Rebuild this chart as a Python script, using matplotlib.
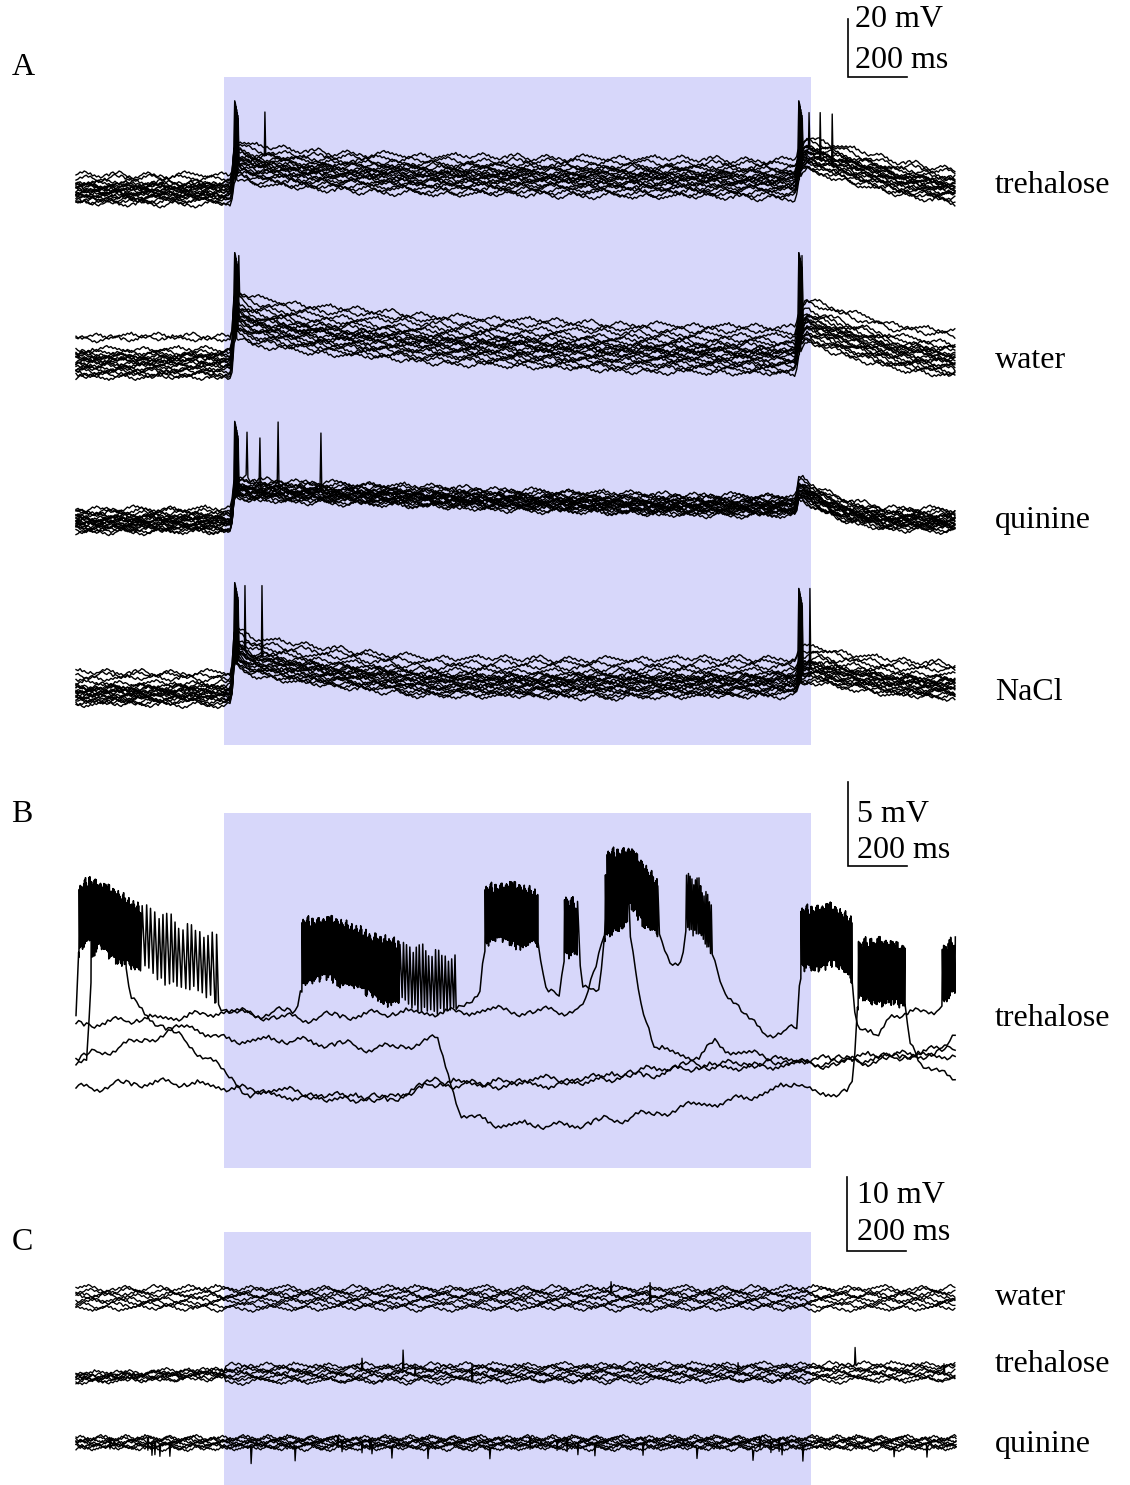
import numpy as np
import matplotlib
matplotlib.use("Agg")
import matplotlib.pyplot as plt
from matplotlib.patches import Rectangle

plt.rcParams['font.family'] = ['Liberation Serif', 'DejaVu Serif']

# ======================= data =======================
TRACE_MS = 3000
STIM_MS = (505, 2505)

# hand-typed membrane-noise texture (arbitrary units), reused with shifts
W = np.array([0, 1, 3, 2, 4, 3, 1, 2, -1, 0,
              -2, -1, -3, -2, 0, 1, -1, 2, 3, 1,
              2, 4, 3, 1, 0, -2, -1, -3, -4, -2,
              -3, -1, 0, 2, 1, 3, 2, 0, 1, -1,
              -2, 0, -1, -3, -2, -4, -3, -1, -2, 0,
              2, 1, 3, 4, 2, 3, 1, 2, 0, 1,
              -1, 0, -2, -1, -3, -1, -2, 0, 1, 0,
              2, 3, 1, 2, -1, 0, -2, -3, -1, -2,
              0, -1, 1, 0, 2, 1, 3, 2, 4, 1,
              2, 0, -1, 1, -1, -2, 0], dtype=float)

# ---- Panel A : 20 superimposed sweeps per tastant (mV, rel. to baseline) ----
A_labels = ["trehalose", "water", "quinine", "NaCl"]
A_stack_mV = [0.0, -58.3, -114.5, -173.1]
A_env_t = [[0, 530, 540, 600, 800, 1200, 1800, 2455, 2462, 2490, 2600, 2800, 3000],
           [0, 530, 540, 600, 800, 1250, 1800, 2455, 2462, 2490, 2600, 2800, 3000],
           [0, 530, 540, 600, 1000, 1500, 2000, 2455, 2462, 2480, 2510, 2600, 2750, 3000],
           [0, 530, 540, 600, 800, 1200, 1800, 2455, 2465, 2510, 2600, 2800, 3000]]
A_env_v = [[0, 0, 10, 8, 6, 4.5, 3.8, 3, 9, 12, 9, 3.5, 0.8],
           [0, 0, 14, 11, 8, 4.5, 2, 0.5, 8, 12, 8, 2.5, 0],
           [0, 0, 11, 10.5, 9, 7, 5.5, 5, 10.5, 10.5, 8.5, 4, 0.8, 0],
           [0, 0, 14, 10, 7, 3, 2.5, 3, 7, 8, 6, 3, 2]]
A_pre_off = [[4.5, 3.4, 2.0, 1.2, 0.8, 0.4, 0.0, -0.4, -0.8, -1.2, -1.6, -2.0, -2.4, -2.8, -3.2, -3.6, -4.1, -4.6, -5.5, 1.0],
             [7.2, 6.3, 2.6, 1.6, 0.9, 0.3, -0.2, -0.7, -1.2, -1.7, -2.2, -2.7, -3.2, -3.8, -4.4, -5.0, -5.6, -6.3, -7.0, 0.0],
             [3.8, 3.0, 2.3, 1.8, 1.2, 0.8, 0.4, 0.0, -0.3, -0.7, -1.0, -1.3, -1.7, -2.0, -2.4, -2.8, -3.2, -3.6, -4.0, 0.2],
             [6.0, 5.0, 4.0, 2.2, 1.4, 0.8, 0.3, -0.1, -0.5, -0.9, -1.3, -1.7, -2.1, -2.5, -2.9, -3.3, -3.8, -4.3, -5.0, 0.5]]
A_stim_off = [[6.5, 5.0, 3.8, 3.0, 2.4, 1.8, 1.2, 0.6, 0.0, -0.5, -1.0, -1.5, -2.0, -2.6, -3.2, -3.8, -4.6, -5.5, -6.5, 0.3],
              [9.5, 8.0, 6.5, 5.0, 4.0, 3.0, 2.2, 1.5, 0.8, 0.2, -0.4, -1.0, -1.6, -2.3, -3.0, -3.7, -4.5, -5.5, -6.5, 1.2],
              [3.2, 2.6, 2.0, 1.5, 1.1, 0.7, 0.4, 0.1, -0.2, -0.5, -0.8, -1.1, -1.4, -1.7, -2.0, -2.3, -2.7, -3.1, -3.5, 0.0],
              [8.0, 6.5, 5.0, 3.6, 2.6, 2.0, 1.4, 0.9, 0.4, -0.1, -0.6, -1.1, -1.6, -2.1, -2.6, -3.1, -3.7, -4.3, -5.0, 1.1]]
A_on_time_ms = 541
A_off_time_ms = 2464
A_on_peak = [30.0, 36.0, 34.0, 37.0]
A_off_peak = [30.0, 36.0, None, 35.0]
A_jit_ms = [0, 3, 6, 1, 4, 8, 2, 5, 10, 0, 7, 3, 12, 1, 5, 9, 2, 6, 4, 11]
A_drop_mV = [0, 1, 3, 0.5, 2, 4, 1, 2.5, 5, 0, 3, 1.5, 6, 0.5, 2, 4, 1, 3, 2, 5]
# extra action potentials: (sweep, time ms, peak mV)
A_extra = [[(3, 644, 26.2), (5, 2499, 26.0), (8, 2537, 26.0), (11, 2578, 25.5)],
           [(2, 555, 35.0), (6, 2475, 35.0)],
           [(2, 583, 30.3), (6, 627, 28.3), (9, 689, 33.8), (13, 835, 30.0)],
           [(4, 576, 36.0), (7, 634, 36.0), (10, 2502, 35.0)]]

# ---- Panel B : 5 sweeps, trehalose (mV) ----
B_t = [[0, 10, 48, 116, 218, 355, 474, 498, 559, 753, 770, 866, 1036, 1173, 1292, 1336, 1377, 1394,
        1480, 1575, 1599, 1650, 1664, 1711, 1728, 1786, 1810, 1889, 1984, 2025, 2066, 2079, 2127,
        2168, 2206, 2253, 2298, 2342, 2458, 2471, 2570, 2645, 2659, 2731, 2775, 2938, 2952, 3000],
       [0, 41, 51, 82, 167, 184, 252, 389, 515, 593, 764, 1070, 1207, 1616, 1844, 2015, 2468, 2639, 2911, 3000],
       [0, 252, 498, 764, 1275, 1728, 1769, 1803, 1882, 1923, 1974, 2127, 2178, 2229, 2468, 2639, 2809, 3000],
       [0, 218, 389, 515, 764, 1036, 1231, 1309, 1445, 1650, 1786, 1957, 2185, 2356, 2468, 2526, 2628,
        2649, 2666, 2741, 2826, 2843, 2877, 2979, 3000],
       [0, 252, 498, 764, 1070, 1207, 1616, 1957, 2127, 2468, 2741, 2945, 3000]]
B_v = [[0.18, 4.46, 5.06, 4.46, 3.27, 2.08, 1.49, 0.71, 0.36, 0.48, 2.50, 2.68, 1.49, 0.89, 0.48, 1.19, 1.79, 4.76,
        5.06, 4.46, 1.79, 1.67, 4.17, 3.87, 1.79, 1.90, 6.85, 7.14, 5.06, 3.39, 3.57, 5.65, 5.06,
        3.87, 1.96, 1.01, 0.0, -0.77, -0.60, 3.27, 3.57, 2.68, -0.30, -1.19, 0.30, 0.60, 1.19, 1.79],
       [-2.50, -2.38, 3.57, 4.46, 3.57, 1.19, 0.12, -1.49, -3.15, -4.46, -4.58, -4.76, -3.75, -3.87, -3.39, -2.80, -2.38, -2.26, -2.08, -1.79],
       [-0.30, 0.0, 0.48, 0.12, 0.48, 0.60, 2.98, 5.36, 5.65, 1.19, -1.79, -2.26, -1.19, -1.90, -2.56, -2.38, -2.26, -2.08],
       [-2.38, -1.19, -0.42, -1.19, -1.31, -1.67, -1.19, -5.54, -6.25, -6.37, -6.07, -5.54, -4.94, -4.35, -3.75, -4.58, -4.17,
        -3.87, 1.19, 1.49, 0.89, -1.19, -2.38, -3.57, -3.75],
       [-4.05, -3.75, -3.99, -4.35, -4.76, -3.87, -3.57, -3.27, -2.86, -2.68, -2.38, -1.79, -0.77]]
# spike bursts: (start ms, end ms, inter-spike ms, spike height mV)
B_bursts = [[(10, 220, 3, 3.3), (220, 474, 14, 3.6), (770, 1100, 3, 3.3), (1100, 1292, 11, 3.3),
             (1394, 1575, 3, 3.0), (1664, 1711, 4, 3.0), (1810, 1984, 3, 3.0), (2079, 2168, 6, 3.0),
             (2471, 2645, 3, 3.2), (2952, 3000, 4, 3.0)],
            [(51, 167, 3, 3.3)],
            [(1803, 1882, 4, 3.0)],
            [(2666, 2826, 4, 3.3)],
            []]

# ---- Panel C : 8 sweeps per tastant (mV) ----
C_labels = ["water", "trehalose", "quinine"]
C_stack_mV = [0.0, -10.8, -19.6]
C_env_t = [[0, 3000], [0, 500, 3000], [0, 3000]]
C_env_v = [[0, 0], [0, 0.6, 0.8], [0, 0]]
C_pre_off = [[1.3, 0.9, 0.5, 0.2, -0.2, -0.6, -1.0, -1.4],
             [0.5, 0.35, 0.2, 0.05, -0.1, -0.25, -0.4, -0.55],
             [0.7, 0.5, 0.3, 0.1, -0.1, -0.3, -0.5, -0.7]]
C_stim_off = [[1.3, 0.9, 0.5, 0.2, -0.2, -0.6, -1.0, -1.4],
              [1.0, 0.7, 0.4, 0.1, -0.2, -0.5, -0.8, -1.1],
              [0.7, 0.5, 0.3, 0.1, -0.1, -0.3, -0.5, -0.7]]
# small events: (sweep, time ms, amplitude mV relative to sweep)
C_events = [[(2, 1824, 1.5), (5, 1957, 2.6), (1, 2161, 0.8)],
            [(3, 975, 1.5), (1, 1115, 2.6), (4, 1156, 1.5), (6, 1350, 2.2), (2, 2257, 1.2), (0, 2656, 2.4), (5, 2959, 1.2)],
            []]
C_quinine_down_ms = [116, 245, 259, 269, 286, 320, 597, 747, 893, 907, 975, 1002, 1009, 1077, 1200, 1411,
                     1548, 1640, 1674, 1711, 1769, 1933, 2117, 2308, 2332, 2369, 2397, 2407, 2478, 2789, 2901]
C_quinine_down_mV = [1.6, 1.7, 1.7, 1.7, 1.7, 1.6, 2.3, 2.1, 1.5, 1.5, 1.4, 1.4, 1.4, 1.6, 1.6, 1.6,
                     1.7, 1.5, 1.8, 1.5, 1.6, 1.7, 1.5, 1.4, 1.6, 1.5, 1.8, 1.5, 2.1, 1.4, 1.6]

# ======================= layout (pixels of the 1130x1485 page) =======================
FIG_W, FIG_H = 1130, 1485
X0_PX = 76
PX_PER_MS = 880 / 3000
SHADE = '#D7D7FA'

fig = plt.figure(figsize=(FIG_W / 100, FIG_H / 100), dpi=100)


def make_axes(ref_px, px_per_mv):
    ax = fig.add_axes([0, 0, 1, 1])
    ax.set_xlim(-X0_PX / PX_PER_MS, (FIG_W - X0_PX) / PX_PER_MS)
    ax.set_ylim((ref_px - FIG_H) / px_per_mv, ref_px / px_per_mv)
    ax.set_axis_off()
    ax.patch.set_visible(False)
    return ax


def wiggle(n, j, scale):
    k = np.arange(n)
    if j % 2 == 0:
        idx = (k + 37 * j) % len(W)
    else:
        idx = (29 * j + 11 - k) % len(W)
    return W[idx] * scale


def splice(t, v, events):
    keep = np.ones(len(t), dtype=bool)
    at, av = [], []
    for et, ev in events:
        keep &= ~((t > et[0]) & (t < et[-1]))
        at.extend(et)
        av.extend(ev)
    tt = np.concatenate([t[keep], np.array(at, dtype=float)])
    vv = np.concatenate([v[keep], np.array(av, dtype=float)])
    o = np.argsort(tt, kind='stable')
    return tt[o], vv[o]


def spike(t, v, ts, pk, ramp=0.0):
    b = lambda x: float(np.interp(x, t, v))
    if ramp > 0:
        et = [ts - 35, ts - 3, ts, ts + 3, ts + 10]
        ev = [b(ts - 35), b(ts - 3) + ramp, pk, b(ts + 3) + ramp * 0.5, b(ts + 10)]
    else:
        et = [ts - 2, ts, ts + 3]
        ev = [b(ts - 2), pk, b(ts + 3)]
    return et, ev


def scale_bar(ax, t0, v0, mv, label_mv, x_px, y1_px, y2_px):
    ax.plot([t0, t0, t0 + 200], [v0 + mv, v0, v0], color='k', lw=1.2, solid_joinstyle='miter', zorder=3)
    fig.text(x_px / FIG_W, 1 - y1_px / FIG_H, label_mv, fontsize=23, va='baseline', ha='left')
    fig.text(x_px / FIG_W, 1 - y2_px / FIG_H, "200 ms", fontsize=23, va='baseline', ha='left')


def label(x_px, y_px, s):
    fig.text(x_px / FIG_W, 1 - y_px / FIG_H, s, fontsize=23, va='baseline', ha='left')


# ----------------------------- Panel A -----------------------------
axA = make_axes(188, 2.9)
axA.add_patch(Rectangle((STIM_MS[0], -192.1), STIM_MS[1] - STIM_MS[0], 38.3 + 192.1,
                        facecolor=SHADE, edgecolor='none', zorder=0))
tA = np.arange(0, TRACE_MS + 1, 7.0)
for g in range(4):
    env = np.interp(tA, A_env_t[g], A_env_v[g])
    for j in range(20):
        pre, stim = A_pre_off[g][j], A_stim_off[g][j]
        off = np.where(tA < 535, pre, np.where(tA < 2458, stim, 0.5 * (pre + stim)))
        v = env + off + wiggle(len(tA), j + 20 * g, 0.34)
        ev = [spike(tA, v, A_on_time_ms + A_jit_ms[j], A_on_peak[g] - A_drop_mV[j])]
        if A_off_peak[g] is not None:
            ev.append(spike(tA, v, A_off_time_ms + A_jit_ms[j], A_off_peak[g] - A_drop_mV[j]))
        for (tr, ts, pk) in A_extra[g]:
            if tr == j:
                ev.append(spike(tA, v, ts, pk, ramp=2.5 if g == 2 else 0.0))
        t2, v2 = splice(tA, v, ev)
        axA.plot(t2, v2 + A_stack_mV[g], color='k', lw=1.0, zorder=2)

scale_bar(axA, 2632, 38.3, 20, "20 mV", 855, 27, 68)
label(12, 75, "A")
for s, yb in zip(A_labels, [193, 368, 528, 700]):
    label(995, yb, s)

# ----------------------------- Panel B -----------------------------
axB = make_axes(1020, 16.8)
axB.add_patch(Rectangle((STIM_MS[0], -8.81), STIM_MS[1] - STIM_MS[0], 12.32 + 8.81,
                        facecolor=SHADE, edgecolor='none', zorder=0))
tB = np.arange(0, TRACE_MS + 1, 9.0)
for j in range(5):
    base = np.interp(tB, B_t[j], B_v[j])
    v = base + wiggle(len(tB), 7 * j + 3, 0.085)
    keep = np.ones(len(tB), dtype=bool)
    pts_t, pts_v = [], []
    for (t0, t1, d, amp) in B_bursts[j]:
        keep &= ~((tB >= t0) & (tB < t1))
        k = np.arange(int((t1 - t0) / d) + 1)
        ts = t0 + np.cumsum(d * (1 + 0.12 * W[(k * 5 + j) % len(W)] / 4.0)) - d
        ts = ts[ts < t1]
        k = k[:len(ts)]
        trough = np.interp(ts, tB, v) - np.abs(W[(k * 7 + 2) % len(W)]) * 0.12
        tp = ts + 0.4 * d
        peak = np.interp(tp, B_t[j], B_v[j]) + amp + W[(k * 3 + j) % len(W)] * 0.09
        pts_t.extend(ts)
        pts_v.extend(trough)
        pts_t.extend(tp)
        pts_v.extend(peak)
    tt = np.concatenate([tB[keep], np.array(pts_t)])
    vv = np.concatenate([v[keep], np.array(pts_v)])
    o = np.argsort(tt, kind='stable')
    axB.plot(tt[o], vv[o], color='k', lw=1.1, zorder=2)

scale_bar(axB, 2632, 9.17, 5, "5 mV", 857, 822, 858)
label(11, 822, "B")
label(995, 1026, "trehalose")

# ----------------------------- Panel C -----------------------------
axC = make_axes(1298, 7.4)
axC.add_patch(Rectangle((STIM_MS[0], -25.4), STIM_MS[1] - STIM_MS[0], 8.92 + 25.4,
                        facecolor=SHADE, edgecolor='none', zorder=0))
for g in range(3):
    step = 5.0 if g == 2 else 7.0
    tC = np.arange(0, TRACE_MS + 1, step)
    env = np.interp(tC, C_env_t[g], C_env_v[g])
    for j in range(8):
        pre, stim = C_pre_off[g][j], C_stim_off[g][j]
        off = np.where(tC < STIM_MS[0], pre, stim)
        v = env + off + wiggle(len(tC), j + 8 * g + 5, 0.11 if g == 2 else 0.13)
        ev = []
        for (tr, ts, amp) in C_events[g]:
            if tr == j:
                ev.append(spike(tC, v, ts, float(np.interp(ts, tC, v)) + amp))
        if g == 2:
            for i, (ts, dep) in enumerate(zip(C_quinine_down_ms, C_quinine_down_mV)):
                if i % 8 == j:
                    ev.append(spike(tC, v, ts, float(np.interp(ts, tC, v)) - dep))
        t2, v2 = splice(tC, v, ev)
        axC.plot(t2, v2 + C_stack_mV[g], color='k', lw=0.95, zorder=2)

scale_bar(axC, 2628, 6.35, 10, "10 mV", 857, 1203, 1240)
label(12, 1250, "C")
for s, yb in zip(C_labels, [1305, 1372, 1452]):
    label(995, yb, s)

fig.savefig("out.png", dpi=100)
